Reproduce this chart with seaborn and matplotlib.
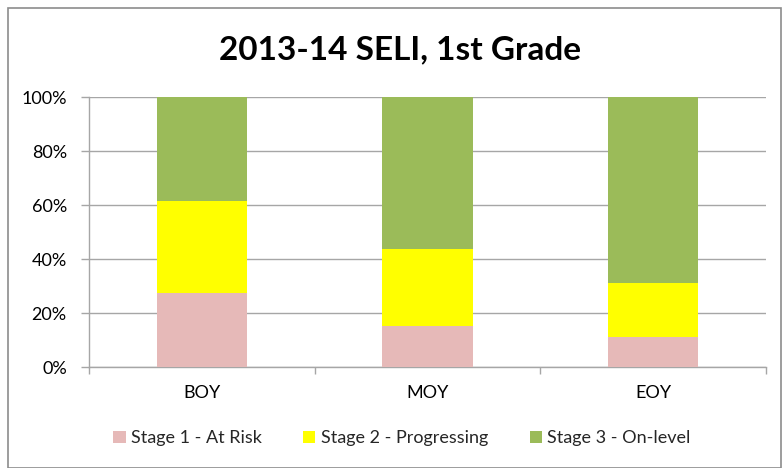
import matplotlib
matplotlib.use("Agg")
import matplotlib.pyplot as plt
import seaborn as sns
import pandas as pd
import numpy as np
from matplotlib.patches import Patch, Rectangle

periods = ["BOY", "MOY", "EOY"]
stage1 = [27.5, 15.3, 11.1]
stage2 = [33.9, 28.3, 20.1]
stage3 = [38.6, 56.4, 68.8]
series_names = ["Stage 1 - At Risk", "Stage 2 - Progressing", "Stage 3 - On-level"]
colors = ["#E6B9B8", "#FFFF00", "#9BBB59"]
yticks = [0, 20, 40, 60, 80, 100]
ytick_labels = ["0%", "20%", "40%", "60%", "80%", "100%"]
title = "2013-14 SELI, 1st Grade"

sns.set_theme(style="white")
plt.rcParams["font.family"] = ["Lato", "DejaVu Sans"]

df = pd.DataFrame({"period": periods, "s1": stage1, "s2": stage2, "s3": stage3})
df["c1"] = df["s1"]
df["c2"] = df["s1"] + df["s2"]
df["c3"] = df["s1"] + df["s2"] + df["s3"]

fig = plt.figure(figsize=(7.82, 4.68), dpi=100)
ax = fig.add_axes([89/782, (468-367)/468, (766-89)/782, (367-97)/468])

for col, c in zip(["c3", "c2", "c1"], colors[::-1]):
    sns.barplot(data=df, x="period", y=col, color=c, width=0.4, ax=ax,
                saturation=1, linewidth=0, order=periods, zorder=3)

ax.set_ylim(0, 100)
ax.set_xlim(-0.5, 2.5)
ax.set_yticks(yticks)
ax.set_yticklabels(ytick_labels, fontsize=13, color="black")
ax.set_xticks([0, 1, 2])
ax.set_xticklabels(periods, fontsize=13, color="black")
ax.set_xlabel("")
ax.set_ylabel("")
ax.yaxis.grid(True, color="#A6A6A6", linewidth=1, zorder=0)
ax.xaxis.grid(False)
for s in ["top", "right"]:
    ax.spines[s].set_visible(False)
ax.spines["left"].set_color("#A6A6A6")
ax.spines["bottom"].set_color("#A6A6A6")
ax.spines["left"].set_linewidth(1)
ax.spines["bottom"].set_linewidth(1)
ax.tick_params(axis="y", which="major", length=6, color="#A6A6A6", width=1, left=True, pad=10)
ax.tick_params(axis="x", which="major", length=0, pad=13)
ax.set_xticks([-0.5, 0.5, 1.5, 2.5], minor=True)
ax.tick_params(axis="x", which="minor", length=5, color="#A6A6A6", width=1, bottom=True)

fig.text(400/782, 1 - 50/468, title, ha="center", va="center",
         fontsize=24, fontweight="bold", color="black")

handles = [Patch(facecolor=c, edgecolor="none") for c in colors]
fig.legend(handles, series_names, loc="center", bbox_to_anchor=(402/782, 1 - 438/468),
           ncol=3, frameon=False, fontsize=13, handlelength=0.67, handleheight=0.67,
           handletextpad=0.3, columnspacing=2.3)

fig.patches.append(Rectangle((8/782, 0), 773/782, 1 - 8/468, transform=fig.transFigure,
                             fill=False, edgecolor="#8C8C8C", linewidth=1.2, zorder=10))

fig.savefig("out.png", dpi=100)
